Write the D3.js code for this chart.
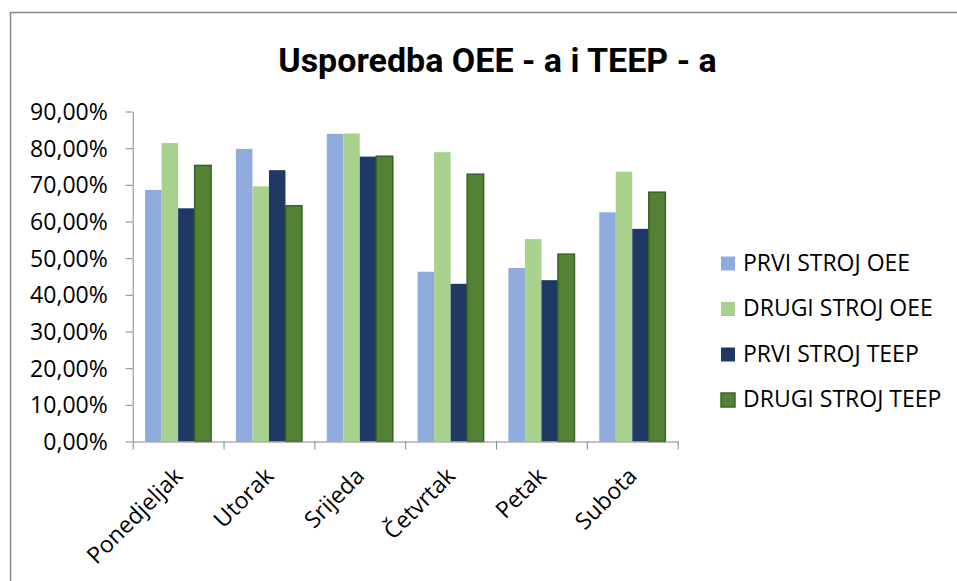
<!DOCTYPE html>
<meta charset="utf-8">
<style>
body { margin: 0; background: #fff; }
.axis path, .axis line { stroke: #868686; }
.axis text { font-family: "Open Sans", sans-serif; font-size: 23px; fill: #000; }
.legend text { font-family: "Open Sans", sans-serif; font-size: 23px; }
.title { font-family: Roboto, sans-serif; font-weight: bold; font-size: 34px; }
</style>
<svg width="957" height="581"></svg>
<script src="https://cdn.jsdelivr.net/npm/d3@7"></script>
<script>

var days = ["Ponedjeljak", "Utorak", "Srijeda", "Četvrtak", "Petak", "Subota"];
var seriesNames = ["PRVI STROJ OEE", "DRUGI STROJ OEE", "PRVI STROJ TEEP", "DRUGI STROJ TEEP"];
var prviOEE   = [0.686, 0.798, 0.839, 0.463, 0.473, 0.625];
var drugiOEE  = [0.814, 0.696, 0.840, 0.789, 0.552, 0.736];
var prviTEEP  = [0.636, 0.740, 0.777, 0.430, 0.440, 0.580];
var drugiTEEP = [0.753, 0.643, 0.778, 0.729, 0.511, 0.680];
var yTicks = [0, 0.1, 0.2, 0.3, 0.4, 0.5, 0.6, 0.7, 0.8, 0.9];
var colors = ["#8faadc", "#a9d18e", "#203864", "#548235"];

var svg = d3.select("svg"),
    plotLeft = 132.7, plotRight = 677.7, plotTop = 111.5, plotBottom = 441.5;

// outer chart frame (runs off the right and bottom edge)
svg.append("rect")
    .attr("x", 10.5).attr("y", 12.5)
    .attr("width", 1000).attr("height", 1000)
    .attr("fill", "none").attr("stroke", "#898989").attr("stroke-width", 1.5);

svg.append("text")
    .attr("class", "title")
    .attr("x", 497.5).attr("y", 72)
    .attr("text-anchor", "middle")
    .text("Usporedba OEE - a i TEEP - a");

var data = seriesNames.map(function(name, i) {
  var vals = [prviOEE, drugiOEE, prviTEEP, drugiTEEP][i];
  return { name: name, color: colors[i], values: days.map(function(d, j) { return {day: d, value: vals[j]}; }) };
});

var x0 = d3.scaleBand().domain(days).range([plotLeft, plotRight]).paddingInner(0.273).paddingOuter(0.1365);
var x1 = d3.scaleBand().domain(seriesNames).range([0, x0.bandwidth()]);
var y = d3.scaleLinear().domain([0, 0.9]).range([plotBottom, plotTop]);

var locale = d3.formatLocale({decimal: ",", thousands: ".", grouping: [3], currency: ["", " kn"]});
var pct = locale.format(".2%");

// bars
var series = svg.selectAll(".series")
    .data(data)
    .enter().append("g")
    .attr("class", "series")
    .attr("fill", function(d) { return d.color; });

series.selectAll("rect")
    .data(function(d) { return d.values.map(function(v) { return {name: d.name, day: v.day, value: v.value}; }); })
    .enter().append("rect")
    .attr("x", function(d) { return x0(d.day) + x1(d.name); })
    .attr("y", function(d) { return y(d.value); })
    .attr("width", x1.bandwidth())
    .attr("height", function(d) { return plotBottom - y(d.value); })
    .attr("stroke", function(d) { return d.name === "DRUGI STROJ TEEP" ? "#3b6128" : "none"; })
    .attr("stroke-width", 1.5);

// y axis
svg.append("g")
    .attr("class", "axis")
    .attr("transform", "translate(" + plotLeft + ",0)")
    .call(d3.axisLeft(y).tickValues(yTicks).tickFormat(pct).tickSize(7).tickSizeOuter(0).tickPadding(18))
    .call(function(g) { g.selectAll("text").attr("dy", "0.35em"); });

// x axis: ticks on the category boundaries
var xb = d3.scaleLinear().domain([0, days.length]).range([plotLeft, plotRight]);
svg.append("g")
    .attr("class", "axis")
    .attr("transform", "translate(0," + plotBottom + ")")
    .call(d3.axisBottom(xb).ticks(days.length).tickFormat("").tickSize(8).tickSizeOuter(0));

svg.append("g")
    .attr("class", "axis")
  .selectAll("text")
    .data(days)
    .enter().append("text")
    .attr("text-anchor", "end")
    .attr("transform", function(d) {
      return "translate(" + (x0(d) + x0.bandwidth() / 2 + 6) + "," + (plotBottom + 36) + ") rotate(-45)";
    })
    .text(function(d) { return d; });

// legend
var legend = svg.append("g")
    .attr("class", "legend")
  .selectAll("g")
    .data(data)
    .enter().append("g")
    .attr("transform", function(d, i) { return "translate(721," + (270.5 + i * 45.5) + ")"; });

legend.append("rect")
    .attr("y", -14).attr("width", 14).attr("height", 14)
    .attr("fill", function(d) { return d.color; })
    .attr("stroke", function(d) { return d.name === "DRUGI STROJ TEEP" ? "#3b6128" : "none"; })
    .attr("stroke-width", 1.5);

legend.append("text")
    .attr("x", 22)
    .text(function(d) { return d.name; });

</script>
